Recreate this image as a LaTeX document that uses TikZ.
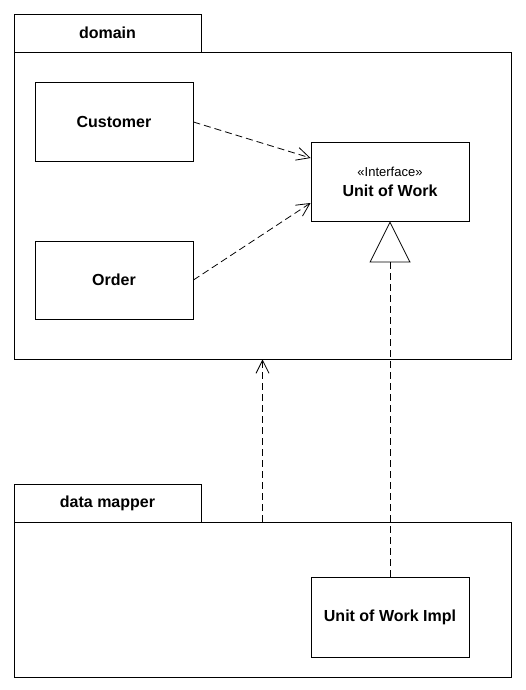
\documentclass[tikz,border=0pt]{standalone}
\usepackage{fontspec}
\setmainfont{Liberation Sans}
\usetikzlibrary{arrows.meta, positioning}
\tikzset{
    classbox/.style={
        rectangle, draw, fill=white, line width=0.9pt, align=center,
        minimum width=158pt, minimum height=79pt,
        font=\bfseries\fontsize{16}{18}\selectfont
    },
    pkgtab/.style={
        rectangle, draw, line width=0.9pt, minimum width=187pt, minimum height=38pt,
        font=\bfseries\fontsize{16}{18}\selectfont
    },
    pkgbody/.style={rectangle, draw, line width=0.9pt, minimum width=497pt},
    dep/.style={dash pattern=on 7pt off 4pt, line width=0.8pt, -{Straight Barb[length=13pt, width=13pt]}},
    realize/.style={dash pattern=on 7pt off 4pt, line width=0.8pt, -{Triangle[open, length=41pt, width=41pt, line width=0.8pt]}},
}
\begin{document}
\begin{tikzpicture}[x=1pt, y=-1pt]
    \useasboundingbox (0,0) rectangle (525,690);
    % Packages
    \node[pkgtab] (domaintab) at (107.5,33) {domain};
    \node[pkgbody, minimum height=307pt] (domain) at (262.5,205.5) {};
    \node[pkgtab] (mappertab) at (107.5,503) {data mapper};
    \node[pkgbody, minimum height=155pt] (mapper) at (262.5,599.5) {};

    % Classes
    \node[classbox] (cust) at (114,122) {Customer};
    \node[classbox, minimum height=78pt] (order) at (114,280) {Order};
    \node[classbox] (iface) at (390,181.5) {{\mdseries\fontsize{13}{15}\selectfont «Interface»}\\[2pt]Unit of Work};
    \node[classbox, minimum height=80pt] (impl) at (390,617) {Unit of Work Impl};

    % Dependencies
    \draw[dep] (cust.east) -- ([yshift=23.5pt]iface.west);
    \draw[dep] (order.east) -- ([yshift=-21.5pt]iface.west);
    \draw[dep] (mapper.north) -- (domain.south);

    % Realization
    \draw[realize] (impl.north) -- (iface.south);
\end{tikzpicture}
\end{document}
